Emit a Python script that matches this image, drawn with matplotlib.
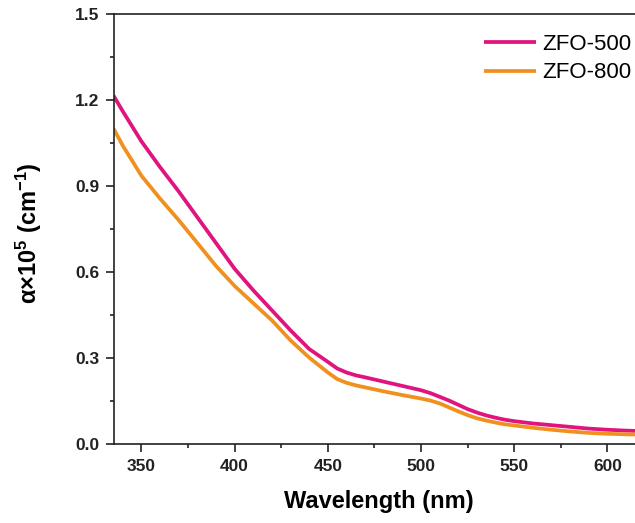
import matplotlib
matplotlib.use("Agg")
import matplotlib.pyplot as plt
from matplotlib.ticker import MultipleLocator

plt.rcParams['font.family'] = ['Liberation Sans', 'DejaVu Sans']
plt.rcParams['mathtext.fontset'] = 'custom'
plt.rcParams['mathtext.rm'] = 'Liberation Sans'
plt.rcParams['mathtext.bf'] = 'Liberation Sans:bold'
plt.rcParams['mathtext.default'] = 'bf'

# absorption coefficient (x1e5 cm^-1) vs wavelength
wavelength = [335, 340, 350, 360, 370, 380, 390, 400, 410, 420, 430, 440, 450,
              455, 460, 465, 470, 480, 490, 500, 505, 510, 515, 520, 525, 530,
              535, 540, 545, 550, 560, 570, 580, 590, 600, 610, 620, 633]
zfo_500 = [1.215, 1.16, 1.055, 0.965, 0.88, 0.79, 0.70, 0.61, 0.535, 0.465, 0.395,
           0.33, 0.285, 0.262, 0.248, 0.238, 0.231, 0.216, 0.201, 0.186, 0.176,
           0.163, 0.15, 0.135, 0.12, 0.108, 0.098, 0.09, 0.083, 0.078, 0.07,
           0.064, 0.058, 0.052, 0.048, 0.045, 0.043, 0.041]
zfo_800 = [1.10, 1.04, 0.935, 0.855, 0.78, 0.70, 0.62, 0.55, 0.49, 0.43, 0.36,
           0.30, 0.248, 0.225, 0.212, 0.203, 0.196, 0.182, 0.169, 0.157, 0.15,
           0.14, 0.126, 0.112, 0.099, 0.088, 0.08, 0.073, 0.067, 0.063, 0.055,
           0.048, 0.042, 0.037, 0.034, 0.032, 0.031, 0.030]
labels = ['ZFO-500', 'ZFO-800']
colors = ['#E0147F', '#F0901E']

W, H = 635, 523
fig = plt.figure(figsize=(W / 100, H / 100), dpi=100, facecolor='white')
# axes run past the right edge of the canvas
ax = fig.add_axes([113.5 / W, 1 - 443.5 / H, (669 - 113.5) / W, (443.5 - 14) / H])

for y, lab, c in zip([zfo_500, zfo_800], labels, colors):
    ax.plot(wavelength, y, color=c, lw=2.7, label=lab, solid_capstyle='butt')

ax.set_xlim(335, 633)
ax.set_ylim(0, 1.5)
ax.xaxis.set_major_locator(MultipleLocator(50))
ax.xaxis.set_minor_locator(MultipleLocator(25))
ax.yaxis.set_major_locator(MultipleLocator(0.3))
ax.yaxis.set_minor_locator(MultipleLocator(0.15))
ax.yaxis.set_major_formatter(plt.FuncFormatter(lambda v, p: f'{v:.1f}'))

for s in ax.spines.values():
    s.set_linewidth(1.2)
    s.set_color('#222222')
ax.tick_params(which='major', direction='out', length=6, width=1.2,
               labelsize=12.5, colors='#222222')
ax.tick_params(axis='x', which='major', pad=5)
ax.tick_params(axis='y', which='major', pad=4)
ax.tick_params(which='minor', direction='out', length=3, width=1.2, colors='#222222')
for t in ax.get_xticklabels() + ax.get_yticklabels():
    t.set_fontweight('bold')

ax.set_xlabel('Wavelength (nm)', fontsize=17, fontweight='bold')
ax.xaxis.set_label_coords(0.478, -0.108)
ax.set_ylabel(r'α×10$^{5}$ (cm$^{-1}$)', fontsize=17, fontweight='bold')
ax.yaxis.set_label_coords(-0.125, 0.49)

ax.legend(loc='upper left', bbox_to_anchor=(484 / W, 1 - 34 / H),
          bbox_transform=fig.transFigure, frameon=False, fontsize=16,
          handlelength=2.35, handletextpad=0.25, labelspacing=0.33, borderpad=0,
          borderaxespad=0)

fig.savefig('out.png', dpi=100, facecolor='white')
